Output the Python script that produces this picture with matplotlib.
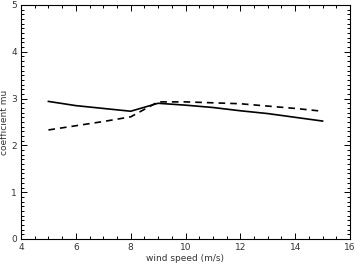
import matplotlib
matplotlib.use("Agg")
import matplotlib.pyplot as plt
from matplotlib.ticker import MultipleLocator

# wind speed (m/s) and coefficient mu for the two curves
wind = [5, 6, 7, 8, 9, 10, 11, 12, 13, 14, 15]
mu_solid = [2.94, 2.85, 2.79, 2.73, 2.90, 2.86, 2.81, 2.74, 2.68, 2.60, 2.52]
mu_dashed = [2.33, 2.42, 2.51, 2.61, 2.93, 2.93, 2.91, 2.89, 2.84, 2.79, 2.73]

fig = plt.figure(figsize=(3.58, 2.68), dpi=100)
ax = fig.add_axes([21 / 358, 1 - 239 / 268, 329 / 358, 234 / 268])

ax.plot(wind, mu_solid, color="black", lw=1.2)
ax.plot(wind, mu_dashed, color="black", lw=1.2, ls=(0, (4, 3)))

ax.set_xlim(4, 16)
ax.set_ylim(0, 5)
ax.xaxis.set_major_locator(MultipleLocator(2))
ax.xaxis.set_minor_locator(MultipleLocator(0.5))
ax.yaxis.set_major_locator(MultipleLocator(1))
ax.yaxis.set_minor_locator(MultipleLocator(0.1))
ax.tick_params(which="both", direction="in", top=True, right=True,
               labelsize=6.5, labelcolor="#333333", width=0.7, pad=3)
ax.tick_params(which="major", length=4)
ax.tick_params(which="minor", length=2)
for s in ax.spines.values():
    s.set_linewidth(0.8)

ax.set_xlabel("wind speed (m/s)", fontsize=6.5, color="#333333", labelpad=1)
ax.set_ylabel("coefficient mu", fontsize=6.5, color="#333333")
ax.yaxis.set_label_coords(-0.036, 0.5)

plt.savefig("out.png", dpi=100)
